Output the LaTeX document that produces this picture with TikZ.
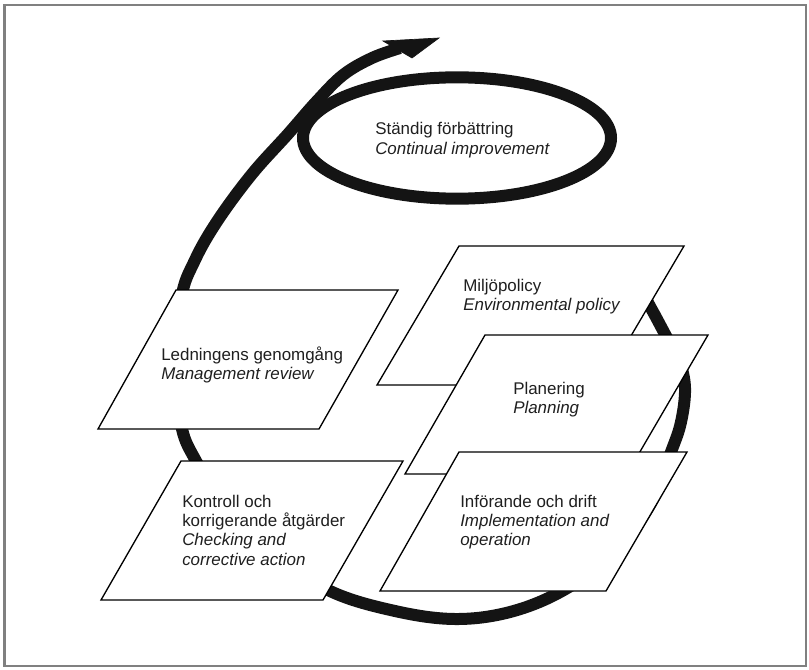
\documentclass[tikz,border=0pt]{standalone}
\usepackage{fontspec}
\setmainfont{Liberation Sans}
\newcommand{\mylines}[1]{\begin{tabular}[t]{@{}l@{}}#1\end{tabular}}
\begin{document}
\begin{tikzpicture}[x=0.75pt,y=-0.75pt,
  band/.style={line width=9pt, draw=black!92},
  head/.style={fill=black!92, draw=black!92, line width=0.5pt, line join=miter},
  pbox/.style={draw=black, line width=1pt, fill=white, line join=miter},
  txt/.style={inner sep=0pt, anchor=base west, font=\fontsize{12.7}{14.6}\selectfont, text=black!88},
  frame/.style={draw=black!50, line width=1.6pt}]
\useasboundingbox (0,0) rectangle (809,670);
\draw[frame] (4.5,5) rectangle (806,666);
% continual improvement ring
\coordinate (ec) at (457,138);
\draw[band] (ec) ellipse [x radius=115.5pt, y radius=45.5pt];
% spiral loop
\coordinate (send) at (400,48);
\draw[band] plot[smooth, tension=0.6] coordinates {
 (615,262) (640,290) (652,310) (666,336) (679,360) (685,388) (681,422) (671,452)
 (650,505) (612,555) (562,591) (510,612) (455,619) (395,611) (330,591)
 (270,552) (225,508) (196,461) (182,429) (177,380) (181,300) (195,260)
 (218,220) (252,174) (288,134) (316,102) (343,75) (372,58) (send)};
% arrow head
\coordinate (hb1) at (383,41);
\coordinate (htip) at (439,38);
\coordinate (hb2) at (412,58);
\draw[head] (hb1) -- (htip) -- (hb2) -- cycle;
% boxes
\draw[pbox] (176,290) -- (398,290) -- (319,429) -- (98,429) -- cycle;
\draw[pbox] (181,461) -- (403,461) -- (323,600) -- (101,600) -- cycle;
\draw[pbox] (459,246) -- (684,246) -- (602,385) -- (377,385) -- cycle;
\draw[pbox] (485,335) -- (708,335) -- (627,474) -- (405,474) -- cycle;
\draw[pbox] (459,452) -- (687,452) -- (606,591) -- (380,591) -- cycle;
% texts
\node[txt] (ci) at (375,135) {\mylines{Ständig förbättring\\\textit{Continual improvement}}};
\node[txt] (lg) at (161,360) {\mylines{Ledningens genomgång\\\textit{Management review}}};
\node[txt] (mp) at (463,291) {\mylines{Miljöpolicy\\\textit{Environmental policy}}};
\node[txt] (pl) at (513,394) {\mylines{Planering\\\textit{Planning}}};
\node[txt] (io) at (460,507) {\mylines{Införande och drift\\\textit{Implementation and}\\\textit{operation}}};
\node[txt] (kk) at (182,507) {\mylines{Kontroll och\\korrigerande åtgärder\\\textit{Checking and}\\\textit{corrective action}}};
\end{tikzpicture}
\end{document}
